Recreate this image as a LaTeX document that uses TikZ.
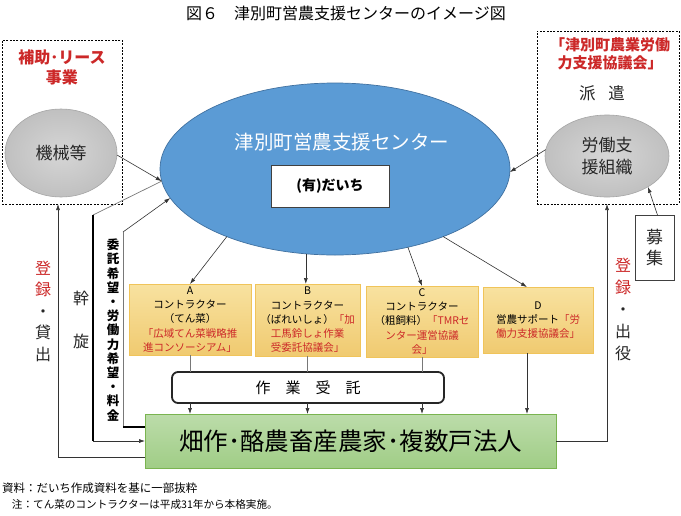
\documentclass[tikz,border=0pt]{standalone}
\usepackage{fontspec}
\setmainfont{Noto Sans CJK JP}
\usetikzlibrary{shapes.geometric,arrows.meta,calc}
\definecolor{jred}{RGB}{204,40,40}
\definecolor{cblue}{RGB}{91,155,213}
\definecolor{cblueb}{RGB}{65,113,160}
\definecolor{orbox}{RGB}{240,196,90}
\definecolor{ortop}{RGB}{248,226,160}
\definecolor{orbot}{RGB}{240,202,112}
\definecolor{grtop}{RGB}{188,220,170}
\definecolor{grbot}{RGB}{160,205,134}
\definecolor{grb}{RGB}{122,180,80}
\definecolor{lgray}{RGB}{120,120,120}
\newcommand{\fsz}[2]{\fontsize{#1}{#2}\selectfont}
\begin{document}
\begin{tikzpicture}[x=1pt,y=-1pt,
  every node/.style={inner sep=0pt, outer sep=0pt},
  dbox/.style={draw=black, line width=0.8pt, dash pattern=on 2pt off 1.4pt},
  hdr/.style={text=jred, font=\bfseries\fsz{16}{20}, align=center},
  hdrb/.style={text=jred, font=\bfseries\fsz{15}{18.5}, align=center},
  gell/.style={ellipse, draw=gray!70, line width=0.6pt, inner color={rgb,255:red,214;green,214;blue,214}, outer color={rgb,255:red,192;green,192;blue,192}, font=\fsz{17}{22}, align=center, text=black!85},
  bell/.style={ellipse, draw=cblueb, line width=0.7pt, fill=cblue},
  obox/.style={draw=orbox, line width=0.9pt, top color=ortop, bottom color=orbot, font=\fsz{10.5}{14.3}, align=center},
  sbox/.style={draw=black!85, line width=1.8pt, rounded corners=6pt, fill=white, font=\fsz{15}{18}},
  fbox/.style={draw=grb, line width=1pt, top color=grtop, bottom color=grbot, font=\fsz{24.5}{30}},
  vlab/.style={align=center, font=\fsz{16}{21.5}, text=black!85},
  arr/.style={draw=black!80, line width=0.6pt, -{Latex[length=6pt,width=4pt]}},
  ln/.style={draw=lgray, line width=0.7pt},
  thickln/.style={draw=black, line width=1.8pt}]
\useasboundingbox[fill=white] (0,0) rectangle (681,515);

% title
\node[font=\fsz{16}{18}] (title) at (346,13) {図６　津別町営農支援センターのイメージ図};

% dashed frames
\node[dbox, minimum width=120pt, minimum height=164pt] (leftbox) at (62,122) {};
\node[dbox, minimum width=142pt, minimum height=173pt] (rightbox) at (608,117.5) {};
\node[hdr] (lhdr) at (62,67) {補助･リース\\事業};
\node[hdrb] (rhdr) at (610,54) {「津別町農業労働\\力支援協議会」};
\node[font=\fsz{16.5}{18}, text=black!85] (haken) at (602,93) {派\hspace{13pt}遣};

% ellipses
\node[gell, minimum width=112pt, minimum height=88pt] (kikai) at (61,153) {機械等};
\node[gell, minimum width=124pt, minimum height=82pt] (roudou) at (607,156) {労働支\\援組織};
\node[bell, minimum width=350pt, minimum height=172pt] (center) at (335,169) {};
\node[text=white, font=\fsz{19.5}{22}] (ctitle) at (342,142) {津別町営農支援センター};
\node[draw=black!75, line width=0.8pt, fill=white, minimum width=118pt, minimum height=42pt, font=\bfseries\fsz{14}{16}] (daichi) at (330,186) {(有)だいち};

% contractor boxes
\node[obox, minimum width=122pt, minimum height=71pt] (A) at (190,319.5) {A\\コントラクター\\（てん菜）\\\textcolor{jred}{「広域てん菜戦略推}\\\textcolor{jred}{進コンソーシアム」}};
\node[obox, minimum width=105pt, minimum height=72pt] (B) at (307.5,320) {B\\コントラクター\\（ばれいしょ）\textcolor{jred}{「加}\\\textcolor{jred}{工馬鈴しょ作業}\\\textcolor{jred}{受委託協議会」}};
\node[obox, minimum width=112pt, minimum height=71pt] (C) at (422,321.5) {C\\コントラクター\\（粗飼料）\textcolor{jred}{「TMRセ}\\\textcolor{jred}{ンター運営協議}\\\textcolor{jred}{会」}};
\node[obox, minimum width=110pt, minimum height=66pt] (D) at (538,320) {D\\営農サポート\textcolor{jred}{「労}\\\textcolor{jred}{働力支援協議会」}};

% sagyou and farm
\node[sbox, minimum width=272pt, minimum height=31pt] (sagyou) at (308,387.5) {作　業　受　託};
\node[fbox, minimum width=411pt, minimum height=54pt] (farm) at (350.5,441) {畑作･酪農畜産農家･複数戸法人};

% boshu
\node[draw=black!75, line width=0.8pt, minimum width=39pt, minimum height=65pt, font=\fsz{17}{21}, align=center, text=black!85] (boshu) at (654.5,247.5) {募\\集};

% vertical labels
\node[vlab] (tourokuL) at (43,311) {\textcolor{jred}{登}\\\textcolor{jred}{録}\\・\\貸\\出};
\node[vlab, font=\fsz{16}{43}] (kansen) at (81,320) {幹\\旋};
\node[align=center, font=\bfseries\fsz{12.5}{14.2}] (itakulab) at (113,330) {委\\託\\希\\望\\・\\労\\働\\力\\希\\望\\・\\料\\金};
\node[vlab, font=\fsz{16}{22}] (tourokuR) at (623,309) {\textcolor{jred}{登}\\\textcolor{jred}{録}\\・\\出\\役};

% coordinates
\coordinate (kan) at (93,215);
\coordinate (itk) at (123,232);
\coordinate (fw1) at ([yshift=14pt]farm.west);
\coordinate (fw2) at ([yshift=-16pt]farm.west);

% connectors
\draw[arr] (kikai.-2) -- (center.184.8);
\draw[ln] (center.184.8) -- (kan);
\draw[thickln] (kan) -- (kan |- farm.west);
\draw[arr] (kan |- farm.west) -- (farm.west);
\draw[arr] (itk) -- (center.190.1);
\draw[ln] (itk) -- (itk |- fw1);
\draw[thickln] (itk |- fw1) -- (fw1);
\draw[arr] (fw2) -| ([xshift=-4pt]leftbox.south);
\draw[arr] (farm.east) -| ([xshift=-1pt]rightbox.south);
\draw[arr] (roudou.174) -- (center.-1);
\draw[arr] ([xshift=3pt]boshu.north) -- (roudou.-37.7);

\draw[arr] (center.212.6) -- (A.north);
\draw[arr] (center.251.8) -- (center.251.8 |- B.north);
\draw[arr] (center.-47.9) -- (C.north);
\draw[arr] (center.-32.5) -- ([xshift=-11pt]D.north);

\foreach \b in {A,B,C}{
  \draw[ln] (\b.south) -- (\b.south |- sagyou.north);
  \draw[arr] (\b.south |- sagyou.south) -- (\b.south |- farm.north);
}
\draw[arr] ([xshift=-11pt]D.south) -- ([xshift=-11pt]D.south |- farm.north);

% footer
\node[anchor=west, font=\fsz{11.5}{13}] (src) at (2,488) {資料：だいち作成資料を基に一部抜粋};
\node[anchor=west, font=\fsz{10.6}{13}] (note) at (12,504) {注：てん菜のコントラクターは平成31年から本格実施。};
\end{tikzpicture}
\end{document}
